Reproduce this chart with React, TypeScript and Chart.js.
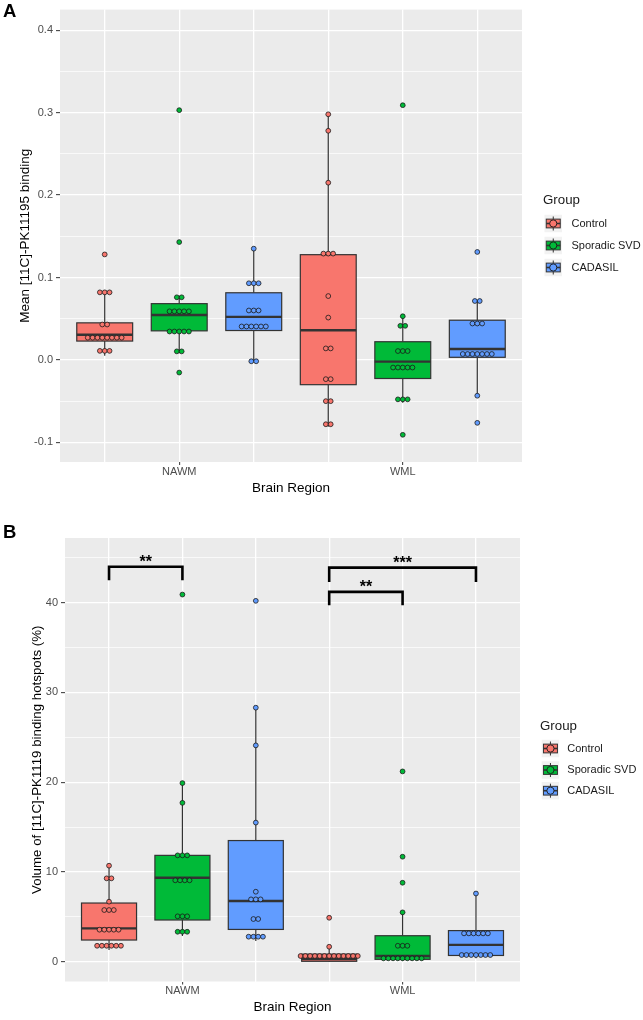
import React, { useEffect, useRef } from "react";
import { Chart, registerables } from "chart.js";

Chart.register(...registerables);

const FONT = "'Liberation Sans', Arial, Helvetica, sans-serif";

// ---------- shared categories ----------
const GROUPS = ["Control", "Sporadic SVD", "CADASIL"];
const GROUP_COLORS = ["#F8766D", "#00BA38", "#619CFF"];
const REGIONS = ["NAWM", "WML"];
const X_TITLE = "Brain Region";
const LEGEND_TITLE = "Group";

// ---------- Panel A: Mean [11C]-PK11195 binding ----------
// box order: NAWM(Control, SVD, CADASIL), WML(Control, SVD, CADASIL)
const A_WHISKER_LOW = [0.005, 0.008, -0.002, -0.081, -0.052, -0.044];
const A_Q1 = [0.0229, 0.0353, 0.0357, -0.03, -0.0225, 0.0032];
const A_MEDIAN = [0.0305, 0.0546, 0.0522, 0.0361, -0.002, 0.0133];
const A_Q3 = [0.045, 0.0683, 0.0815, 0.1277, 0.0221, 0.0482];
const A_WHISKER_HIGH = [0.082, 0.078, 0.135, 0.298, 0.053, 0.0715];

const A_CONTROL_NAWM = [0.128, 0.082, 0.082, 0.082, 0.043, 0.043, 0.027, 0.027, 0.027, 0.027, 0.027, 0.027, 0.027, 0.027, 0.011, 0.011, 0.011];
const A_SVD_NAWM = [0.303, 0.143, 0.076, 0.076, 0.059, 0.059, 0.059, 0.059, 0.059, 0.0345, 0.0345, 0.0345, 0.0345, 0.0345, 0.0104, 0.0104, -0.0153];
const A_CADASIL_NAWM = [0.135, 0.093, 0.093, 0.093, 0.06, 0.06, 0.06, 0.0406, 0.0406, 0.0406, 0.0406, 0.0406, 0.0406, -0.0016, -0.0016];
const A_CONTROL_WML = [0.298, 0.278, 0.215, 0.129, 0.129, 0.129, 0.0775, 0.0514, 0.014, 0.014, -0.0233, -0.0233, -0.05, -0.05, -0.078, -0.078];
const A_SVD_WML = [0.309, 0.053, 0.0414, 0.0414, 0.0108, 0.0108, 0.0108, -0.0092, -0.0092, -0.0092, -0.0092, -0.0092, -0.0478, -0.0478, -0.0478, -0.0908];
const A_CADASIL_WML = [0.131, 0.0715, 0.0715, 0.0442, 0.0442, 0.0442, 0.0072, 0.0072, 0.0072, 0.0072, 0.0072, 0.0072, 0.0072, -0.0434, -0.0763];

const A_Y_TICKS = [-0.1, -0.05, 0, 0.05, 0.1, 0.15, 0.2, 0.25, 0.3, 0.35, 0.4];
const A_Y_MIN = -0.1238;
const A_Y_MAX = 0.425;
const A_Y_TITLE = "Mean [11C]-PK11195 binding";

// ---------- Panel B: Volume of binding hotspots (%) ----------
const B_WHISKER_LOW = [1.3, 2.86, 2.3, 0, 0.1, 0.4];
const B_Q1 = [2.42, 4.65, 3.6, 0.05, 0.27, 0.7];
const B_MEDIAN = [3.72, 9.36, 6.76, 0.3, 0.64, 1.88];
const B_Q3 = [6.54, 11.85, 13.5, 0.85, 2.9, 3.47];
const B_WHISKER_HIGH = [10.7, 19.9, 28.3, 1.67, 5.5, 7.6];

const B_CONTROL_NAWM = [10.7, 9.29, 9.29, 6.69, 5.76, 5.76, 5.76, 3.57, 3.57, 3.57, 3.57, 3.57, 1.78, 1.78, 1.78, 1.78, 1.78, 1.78];
const B_SVD_NAWM = [40.9, 19.9, 17.7, 11.85, 11.85, 11.85, 9.07, 9.07, 9.07, 9.07, 5.06, 5.06, 5.06, 3.34, 3.34, 3.34];
const B_CADASIL_NAWM = [40.2, 28.3, 24.1, 15.5, 7.8, 6.95, 6.95, 6.95, 4.76, 4.76, 2.79, 2.79, 2.79, 2.79];
const B_CONTROL_WML = [4.9, 1.67, 0.64, 0.64, 0.64, 0.64, 0.64, 0.64, 0.64, 0.64, 0.64, 0.64, 0.64, 0.64, 0.64];
const B_SVD_WML = [21.2, 11.7, 8.8, 5.5, 1.78, 1.78, 1.78, 0.38, 0.38, 0.38, 0.38, 0.38, 0.38, 0.38, 0.38, 0.38];
const B_CADASIL_WML = [7.6, 3.16, 3.16, 3.16, 3.16, 3.16, 3.16, 0.75, 0.75, 0.75, 0.75, 0.75, 0.75, 0.75];

const B_Y_TICKS = [0, 5, 10, 15, 20, 25, 30, 35, 40, 45];
const B_Y_MIN = -2.2;
const B_Y_MAX = 47.2;
const B_Y_TITLE = "Volume of [11C]-PK1119 binding hotspots (%)";

// significance brackets (slot indices and heights in data units)
const B_BRACKET_FROM = [0, 3, 3];
const B_BRACKET_TO = [1, 5, 4];
const B_BRACKET_Y = [44.0, 43.9, 41.2];
const B_BRACKET_TIP = [42.5, 42.3, 39.7];
const B_BRACKET_LABEL = ["**", "***", "**"];

// ---------- styling constants ----------
const DOT_STEP = 0.065;
const BOX_WIDTH = 0.75;
const PANEL_BG = "#EBEBEB";
const OUTLINE = "#333333";
const TICK_TEXT = "#4D4D4D";

type Panel = {
  letter: string;
  height: number;
  top: number;
  low: number[];
  q1: number[];
  med: number[];
  q3: number[];
  high: number[];
  points: number[][][]; // [region][group]
  yTicks: number[];
  yMin: number;
  yMax: number;
  yTitle: string;
  isMajor: (v: number) => boolean;
  fmt: (v: number) => string;
  layout: {
    padTop: number;
    padRight: number;
    yWidth: number;
    xHeight: number;
    yTitleFont: number;
    yTitlePad: number;
    xTitlePad: number;
    letterBaseline: number;
    legendTitleY: number;
    legendRows: number[];
    legendKeyX: number;
    legendLabelX: number;
    legendTitleX: number;
  };
  brackets: boolean;
};

const PANEL_A: Panel = {
  letter: "A",
  height: 505,
  top: 0,
  low: A_WHISKER_LOW,
  q1: A_Q1,
  med: A_MEDIAN,
  q3: A_Q3,
  high: A_WHISKER_HIGH,
  points: [
    [A_CONTROL_NAWM, A_SVD_NAWM, A_CADASIL_NAWM],
    [A_CONTROL_WML, A_SVD_WML, A_CADASIL_WML],
  ],
  yTicks: A_Y_TICKS,
  yMin: A_Y_MIN,
  yMax: A_Y_MAX,
  yTitle: A_Y_TITLE,
  isMajor: (v) => Math.abs(v * 10 - Math.round(v * 10)) < 1e-6,
  fmt: (v) => (Math.abs(v) < 1e-9 ? "0.0" : v.toFixed(1)),
  layout: {
    padTop: 7,
    padRight: 121,
    yWidth: 60,
    xHeight: 43,
    yTitleFont: 13.5,
    yTitlePad: 16.9,
    xTitlePad: 8.9,
    letterBaseline: 17,
    legendTitleX: 543,
    legendTitleY: 200.5,
    legendRows: [223.5, 245.5, 267.5],
    legendKeyX: 544.5,
    legendLabelX: 571.5,
  },
  brackets: false,
};

const PANEL_B: Panel = {
  letter: "B",
  height: 515,
  top: 505,
  low: B_WHISKER_LOW,
  q1: B_Q1,
  med: B_MEDIAN,
  q3: B_Q3,
  high: B_WHISKER_HIGH,
  points: [
    [B_CONTROL_NAWM, B_SVD_NAWM, B_CADASIL_NAWM],
    [B_CONTROL_WML, B_SVD_WML, B_CADASIL_WML],
  ],
  yTicks: B_Y_TICKS,
  yMin: B_Y_MIN,
  yMax: B_Y_MAX,
  yTitle: B_Y_TITLE,
  isMajor: (v) => Math.abs(v % 10) < 1e-9,
  fmt: (v) => String(v),
  layout: {
    padTop: 33,
    padRight: 123,
    yWidth: 65,
    xHeight: 38.5,
    yTitleFont: 13.3,
    yTitlePad: 29.5,
    xTitlePad: 4.9,
    letterBaseline: 33,
    legendTitleX: 540,
    legendTitleY: 221,
    legendRows: [243.5, 265, 285.7],
    legendKeyX: 541.7,
    legendLabelX: 567.3,
  },
  brackets: true,
};

const NG = GROUPS.length;
const SLOTS = Array.from({ length: REGIONS.length * NG }, (_, i) => i);
const REGION_CENTERS = REGIONS.map((_, r) => r * NG + (NG - 1) / 2);

function stackDots(values: number[], center: number) {
  const counts = new Map<number, number>();
  values.forEach((v) => counts.set(v, (counts.get(v) || 0) + 1));
  const seen = new Map<number, number>();
  return values.map((v) => {
    const n = counts.get(v) as number;
    const k = seen.get(v) || 0;
    seen.set(v, k + 1);
    return { x: center + (k - (n - 1) / 2) * DOT_STEP, y: v };
  });
}

function makePlugin(p: Panel) {
  return {
    id: "panel" + p.letter,
    beforeDraw(chart: any) {
      const { ctx, chartArea: a } = chart;
      ctx.save();
      ctx.fillStyle = PANEL_BG;
      ctx.fillRect(a.left, a.top, a.right - a.left, a.bottom - a.top);
      ctx.restore();
    },
    beforeDatasetsDraw(chart: any) {
      const { ctx } = chart;
      const xs = chart.scales.x;
      const ys = chart.scales.y;
      ctx.save();
      SLOTS.forEach((i) => {
        const g = i % NG;
        const cx = xs.getPixelForValue(i);
        const l = xs.getPixelForValue(i - BOX_WIDTH / 2);
        const r = xs.getPixelForValue(i + BOX_WIDTH / 2);
        const yLow = ys.getPixelForValue(p.low[i]);
        const yQ1 = ys.getPixelForValue(p.q1[i]);
        const yMed = ys.getPixelForValue(p.med[i]);
        const yQ3 = ys.getPixelForValue(p.q3[i]);
        const yHigh = ys.getPixelForValue(p.high[i]);
        ctx.strokeStyle = OUTLINE;
        ctx.lineWidth = 1.2;
        ctx.beginPath();
        ctx.moveTo(cx, yLow);
        ctx.lineTo(cx, yQ1);
        ctx.moveTo(cx, yQ3);
        ctx.lineTo(cx, yHigh);
        ctx.stroke();
        ctx.fillStyle = GROUP_COLORS[g];
        ctx.fillRect(l, yQ3, r - l, yQ1 - yQ3);
        ctx.strokeRect(l, yQ3, r - l, yQ1 - yQ3);
        ctx.lineWidth = 2.4;
        ctx.beginPath();
        ctx.moveTo(l, yMed);
        ctx.lineTo(r, yMed);
        ctx.stroke();
      });
      ctx.restore();
    },
    afterDraw(chart: any) {
      const { ctx } = chart;
      const xs = chart.scales.x;
      const ys = chart.scales.y;
      const L = p.layout;
      ctx.save();
      // significance brackets
      if (p.brackets) {
        B_BRACKET_FROM.forEach((from, k) => {
          const x1 = xs.getPixelForValue(from);
          const x2 = xs.getPixelForValue(B_BRACKET_TO[k]);
          const y = ys.getPixelForValue(B_BRACKET_Y[k]);
          const tip = ys.getPixelForValue(B_BRACKET_TIP[k]);
          ctx.strokeStyle = "#000";
          ctx.lineWidth = 2.6;
          ctx.lineJoin = "miter";
          ctx.beginPath();
          ctx.moveTo(x1, tip);
          ctx.lineTo(x1, y);
          ctx.lineTo(x2, y);
          ctx.lineTo(x2, tip);
          ctx.stroke();
          ctx.fillStyle = "#000";
          ctx.font = `bold 16px ${FONT}`;
          ctx.textAlign = "center";
          ctx.textBaseline = "alphabetic";
          ctx.fillText(B_BRACKET_LABEL[k], (x1 + x2) / 2, y + 0.5);
        });
      }
      // panel letter
      ctx.fillStyle = "#000";
      ctx.font = `bold 18.5px ${FONT}`;
      ctx.textAlign = "left";
      ctx.textBaseline = "alphabetic";
      ctx.fillText(p.letter, 3, L.letterBaseline);
      // legend
      ctx.font = `13.3px ${FONT}`;
      ctx.fillStyle = "#1A1A1A";
      ctx.textBaseline = "middle";
      ctx.fillText(LEGEND_TITLE, L.legendTitleX, L.legendTitleY);
      const ks = 17.5;
      GROUPS.forEach((name, g) => {
        const cy = L.legendRows[g];
        const kx = L.legendKeyX;
        const ky = cy - ks / 2;
        ctx.fillStyle = "#F2F2F2";
        ctx.fillRect(kx, ky, ks, ks);
        ctx.strokeStyle = OUTLINE;
        ctx.lineWidth = 1;
        ctx.beginPath();
        ctx.moveTo(kx + ks / 2, ky + 0.1 * ks);
        ctx.lineTo(kx + ks / 2, ky + 0.25 * ks);
        ctx.moveTo(kx + ks / 2, ky + 0.75 * ks);
        ctx.lineTo(kx + ks / 2, ky + 0.9 * ks);
        ctx.stroke();
        ctx.fillStyle = GROUP_COLORS[g];
        ctx.fillRect(kx + 0.1 * ks, ky + 0.25 * ks, 0.8 * ks, 0.5 * ks);
        ctx.strokeRect(kx + 0.1 * ks, ky + 0.25 * ks, 0.8 * ks, 0.5 * ks);
        ctx.lineWidth = 1.6;
        ctx.beginPath();
        ctx.moveTo(kx + 0.1 * ks, cy);
        ctx.lineTo(kx + 0.9 * ks, cy);
        ctx.stroke();
        ctx.beginPath();
        ctx.arc(kx + ks / 2, cy, 3.6, 0, Math.PI * 2);
        ctx.fillStyle = GROUP_COLORS[g];
        ctx.fill();
        ctx.lineWidth = 0.9;
        ctx.strokeStyle = "#1A1A1A";
        ctx.stroke();
        ctx.fillStyle = "#1A1A1A";
        ctx.font = `11px ${FONT}`;
        ctx.textBaseline = "middle";
        ctx.fillText(name, L.legendLabelX, cy);
      });
      ctx.restore();
    },
  };
}

function buildConfig(p: Panel): any {
  const L = p.layout;
  const datasets = GROUPS.map((name, g) => ({
    label: name,
    data: REGIONS.flatMap((_, r) => stackDots(p.points[r][g], r * NG + g)),
    backgroundColor: GROUP_COLORS[g],
    borderColor: "#1A1A1A",
    borderWidth: 0.8,
    pointRadius: 2.4,
    pointHoverRadius: 2.4,
    showLine: false,
  }));
  const isRegion = (v: number) => REGION_CENTERS.some((c) => Math.abs(c - v) < 1e-9);
  return {
    type: "scatter",
    data: { datasets },
    options: {
      animation: false,
      responsive: false,
      devicePixelRatio: 1,
      events: [],
      layout: { padding: { top: L.padTop, right: L.padRight, bottom: 0, left: 0 } },
      plugins: { legend: { display: false }, tooltip: { enabled: false } },
      scales: {
        x: {
          type: "linear",
          min: -0.6,
          max: SLOTS.length - 0.4,
          afterBuildTicks: (s: any) => {
            s.ticks = SLOTS.map((v) => ({ value: v }));
          },
          afterFit: (s: any) => {
            s.height = L.xHeight;
          },
          border: { display: false },
          grid: {
            color: "#FFFFFF",
            lineWidth: 1.3,
            drawTicks: true,
            tickLength: 3,
            tickColor: (ctx: any) => (ctx.tick && isRegion(ctx.tick.value) ? OUTLINE : "rgba(0,0,0,0)"),
            tickWidth: 1,
          },
          ticks: {
            autoSkip: false,
            maxRotation: 0,
            padding: 0,
            color: TICK_TEXT,
            font: { family: FONT, size: 11 },
            callback: (v: number) => {
              const r = REGION_CENTERS.findIndex((c) => Math.abs(c - v) < 1e-9);
              return r >= 0 ? REGIONS[r] : "";
            },
          },
          title: {
            display: true,
            text: X_TITLE,
            color: "#000",
            font: { family: FONT, size: 13.5 },
            padding: { top: 0, bottom: L.xTitlePad },
          },
        },
        y: {
          type: "linear",
          min: p.yMin,
          max: p.yMax,
          afterBuildTicks: (s: any) => {
            s.ticks = p.yTicks.map((v) => ({ value: v }));
          },
          afterFit: (s: any) => {
            s.width = L.yWidth;
          },
          border: { display: false },
          grid: {
            color: "#FFFFFF",
            lineWidth: (ctx: any) => (ctx.tick && p.isMajor(ctx.tick.value) ? 1.3 : 0.7),
            drawTicks: true,
            tickLength: 4,
            tickColor: (ctx: any) => (ctx.tick && p.isMajor(ctx.tick.value) ? OUTLINE : "rgba(0,0,0,0)"),
            tickWidth: 1,
          },
          ticks: {
            autoSkip: false,
            padding: 3,
            color: TICK_TEXT,
            font: { family: FONT, size: 11 },
            callback: (v: number) => (p.isMajor(v) ? p.fmt(v) : ""),
          },
          title: {
            display: true,
            text: p.yTitle,
            color: "#000",
            font: { family: FONT, size: L.yTitleFont },
            padding: { top: L.yTitlePad, bottom: 0 },
          },
        },
      },
    },
    plugins: [makePlugin(p)],
  };
}

function PanelChart({ panel }: { panel: Panel }) {
  const ref = useRef<HTMLCanvasElement>(null);
  useEffect(() => {
    const chart = new Chart(ref.current as HTMLCanvasElement, buildConfig(panel));
    return () => chart.destroy();
  }, [panel]);
  return (
    <canvas
      ref={ref}
      width={643}
      height={panel.height}
      style={{ position: "absolute", left: 0, top: panel.top, width: 643, height: panel.height }}
    />
  );
}

export default function App() {
  return (
    <div style={{ position: "absolute", left: 0, top: 0, width: 643, height: 1020, background: "#FFFFFF", overflow: "hidden" }}>
      <PanelChart panel={PANEL_A} />
      <PanelChart panel={PANEL_B} />
    </div>
  );
}
